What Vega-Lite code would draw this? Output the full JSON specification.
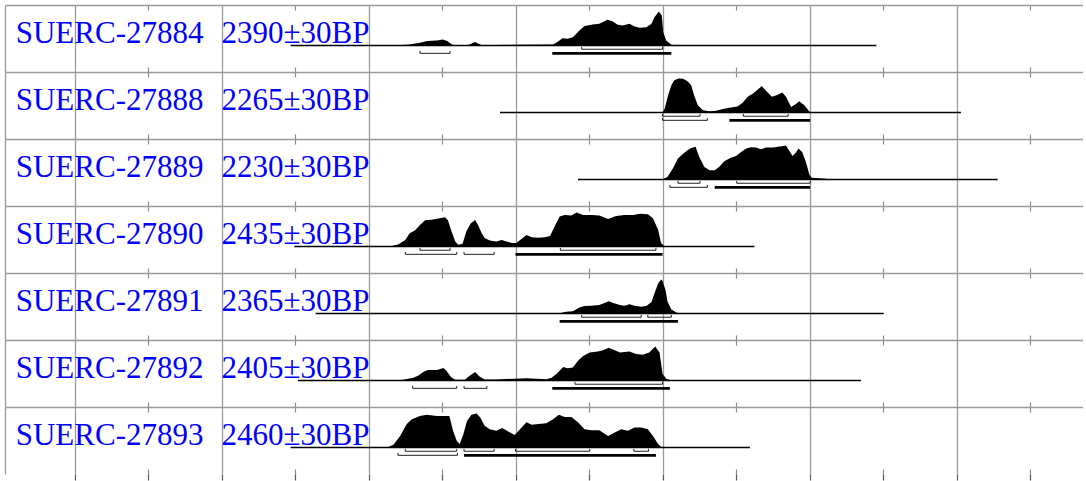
{
  "$schema": "https://vega.github.io/schema/vega-lite/v6.json",
  "padding": {"left": 5, "top": 5, "right": 0, "bottom": 0},
  "background": "white",
  "data": {"values": [
    {"sample":"SUERC-27884","kind":"label","bp":"2390±30BP","from":-906,"to":-109},
    {"sample":"SUERC-27884","kind":"range","level":68.2,"from":-510,"to":-400,"main":false},
    {"sample":"SUERC-27884","kind":"range","level":95.4,"from":-730,"to":-689,"main":false},
    {"sample":"SUERC-27884","kind":"range","level":95.4,"from":-550,"to":-388,"main":true},
    {"sample":"SUERC-27884","kind":"pdf","year":-764,"p":0},
    {"sample":"SUERC-27884","kind":"pdf","year":-744,"p":0.03},
    {"sample":"SUERC-27884","kind":"pdf","year":-730,"p":0.08},
    {"sample":"SUERC-27884","kind":"pdf","year":-720,"p":0.13},
    {"sample":"SUERC-27884","kind":"pdf","year":-707,"p":0.15},
    {"sample":"SUERC-27884","kind":"pdf","year":-699,"p":0.18},
    {"sample":"SUERC-27884","kind":"pdf","year":-693,"p":0.13},
    {"sample":"SUERC-27884","kind":"pdf","year":-686,"p":0.02},
    {"sample":"SUERC-27884","kind":"pdf","year":-678,"p":0},
    {"sample":"SUERC-27884","kind":"pdf","year":-665,"p":0.01},
    {"sample":"SUERC-27884","kind":"pdf","year":-655,"p":0.10},
    {"sample":"SUERC-27884","kind":"pdf","year":-646,"p":0.01},
    {"sample":"SUERC-27884","kind":"pdf","year":-604,"p":0.02},
    {"sample":"SUERC-27884","kind":"pdf","year":-549,"p":0.03},
    {"sample":"SUERC-27884","kind":"pdf","year":-543,"p":0.10},
    {"sample":"SUERC-27884","kind":"pdf","year":-536,"p":0.21},
    {"sample":"SUERC-27884","kind":"pdf","year":-529,"p":0.20},
    {"sample":"SUERC-27884","kind":"pdf","year":-522,"p":0.24},
    {"sample":"SUERC-27884","kind":"pdf","year":-513,"p":0.44},
    {"sample":"SUERC-27884","kind":"pdf","year":-506,"p":0.57},
    {"sample":"SUERC-27884","kind":"pdf","year":-495,"p":0.62},
    {"sample":"SUERC-27884","kind":"pdf","year":-486,"p":0.64},
    {"sample":"SUERC-27884","kind":"pdf","year":-475,"p":0.76},
    {"sample":"SUERC-27884","kind":"pdf","year":-468,"p":0.71},
    {"sample":"SUERC-27884","kind":"pdf","year":-461,"p":0.61},
    {"sample":"SUERC-27884","kind":"pdf","year":-454,"p":0.59},
    {"sample":"SUERC-27884","kind":"pdf","year":-445,"p":0.64},
    {"sample":"SUERC-27884","kind":"pdf","year":-438,"p":0.56},
    {"sample":"SUERC-27884","kind":"pdf","year":-431,"p":0.52},
    {"sample":"SUERC-27884","kind":"pdf","year":-422,"p":0.54},
    {"sample":"SUERC-27884","kind":"pdf","year":-415,"p":0.64},
    {"sample":"SUERC-27884","kind":"pdf","year":-411,"p":0.83},
    {"sample":"SUERC-27884","kind":"pdf","year":-405,"p":1.0},
    {"sample":"SUERC-27884","kind":"pdf","year":-401,"p":0.88},
    {"sample":"SUERC-27884","kind":"pdf","year":-399,"p":0.39},
    {"sample":"SUERC-27884","kind":"pdf","year":-395,"p":0.15},
    {"sample":"SUERC-27884","kind":"pdf","year":-388,"p":0.02},
    {"sample":"SUERC-27884","kind":"pdf","year":-381,"p":0},

    {"sample":"SUERC-27888","kind":"label","bp":"2265±30BP","from":-621,"to":6},
    {"sample":"SUERC-27888","kind":"range","level":68.2,"from":-400,"to":-349,"main":false},
    {"sample":"SUERC-27888","kind":"range","level":68.2,"from":-290,"to":-229,"main":false},
    {"sample":"SUERC-27888","kind":"range","level":95.4,"from":-400,"to":-339,"main":false},
    {"sample":"SUERC-27888","kind":"range","level":95.4,"from":-309,"to":-199,"main":true},
    {"sample":"SUERC-27888","kind":"pdf","year":-400,"p":0},
    {"sample":"SUERC-27888","kind":"pdf","year":-397,"p":0.12},
    {"sample":"SUERC-27888","kind":"pdf","year":-393,"p":0.46},
    {"sample":"SUERC-27888","kind":"pdf","year":-388,"p":0.80},
    {"sample":"SUERC-27888","kind":"pdf","year":-384,"p":0.95},
    {"sample":"SUERC-27888","kind":"pdf","year":-378,"p":1.0},
    {"sample":"SUERC-27888","kind":"pdf","year":-372,"p":0.99},
    {"sample":"SUERC-27888","kind":"pdf","year":-366,"p":0.92},
    {"sample":"SUERC-27888","kind":"pdf","year":-361,"p":0.80},
    {"sample":"SUERC-27888","kind":"pdf","year":-357,"p":0.51},
    {"sample":"SUERC-27888","kind":"pdf","year":-352,"p":0.21},
    {"sample":"SUERC-27888","kind":"pdf","year":-345,"p":0.07},
    {"sample":"SUERC-27888","kind":"pdf","year":-336,"p":0.04},
    {"sample":"SUERC-27888","kind":"pdf","year":-327,"p":0.05},
    {"sample":"SUERC-27888","kind":"pdf","year":-318,"p":0.10},
    {"sample":"SUERC-27888","kind":"pdf","year":-309,"p":0.14},
    {"sample":"SUERC-27888","kind":"pdf","year":-298,"p":0.18},
    {"sample":"SUERC-27888","kind":"pdf","year":-291,"p":0.29},
    {"sample":"SUERC-27888","kind":"pdf","year":-284,"p":0.46},
    {"sample":"SUERC-27888","kind":"pdf","year":-277,"p":0.56},
    {"sample":"SUERC-27888","kind":"pdf","year":-271,"p":0.66},
    {"sample":"SUERC-27888","kind":"pdf","year":-265,"p":0.78},
    {"sample":"SUERC-27888","kind":"pdf","year":-259,"p":0.63},
    {"sample":"SUERC-27888","kind":"pdf","year":-251,"p":0.46},
    {"sample":"SUERC-27888","kind":"pdf","year":-245,"p":0.51},
    {"sample":"SUERC-27888","kind":"pdf","year":-237,"p":0.59},
    {"sample":"SUERC-27888","kind":"pdf","year":-232,"p":0.46},
    {"sample":"SUERC-27888","kind":"pdf","year":-225,"p":0.16},
    {"sample":"SUERC-27888","kind":"pdf","year":-219,"p":0.24},
    {"sample":"SUERC-27888","kind":"pdf","year":-214,"p":0.33},
    {"sample":"SUERC-27888","kind":"pdf","year":-207,"p":0.21},
    {"sample":"SUERC-27888","kind":"pdf","year":-200,"p":0.02},
    {"sample":"SUERC-27888","kind":"pdf","year":-198,"p":0},

    {"sample":"SUERC-27889","kind":"label","bp":"2230±30BP","from":-515,"to":56},
    {"sample":"SUERC-27889","kind":"range","level":68.2,"from":-379,"to":-349,"main":false},
    {"sample":"SUERC-27889","kind":"range","level":68.2,"from":-299,"to":-199,"main":false},
    {"sample":"SUERC-27889","kind":"range","level":95.4,"from":-390,"to":-339,"main":false},
    {"sample":"SUERC-27889","kind":"range","level":95.4,"from":-329,"to":-199,"main":true},
    {"sample":"SUERC-27889","kind":"pdf","year":-400,"p":0},
    {"sample":"SUERC-27889","kind":"pdf","year":-393,"p":0.08},
    {"sample":"SUERC-27889","kind":"pdf","year":-386,"p":0.32},
    {"sample":"SUERC-27889","kind":"pdf","year":-379,"p":0.62},
    {"sample":"SUERC-27889","kind":"pdf","year":-372,"p":0.76},
    {"sample":"SUERC-27889","kind":"pdf","year":-366,"p":0.86},
    {"sample":"SUERC-27889","kind":"pdf","year":-361,"p":0.93},
    {"sample":"SUERC-27889","kind":"pdf","year":-355,"p":0.96},
    {"sample":"SUERC-27889","kind":"pdf","year":-350,"p":0.66},
    {"sample":"SUERC-27889","kind":"pdf","year":-343,"p":0.37},
    {"sample":"SUERC-27889","kind":"pdf","year":-336,"p":0.27},
    {"sample":"SUERC-27889","kind":"pdf","year":-329,"p":0.27},
    {"sample":"SUERC-27889","kind":"pdf","year":-323,"p":0.37},
    {"sample":"SUERC-27889","kind":"pdf","year":-316,"p":0.54},
    {"sample":"SUERC-27889","kind":"pdf","year":-307,"p":0.64},
    {"sample":"SUERC-27889","kind":"pdf","year":-300,"p":0.69},
    {"sample":"SUERC-27889","kind":"pdf","year":-293,"p":0.81},
    {"sample":"SUERC-27889","kind":"pdf","year":-286,"p":0.91},
    {"sample":"SUERC-27889","kind":"pdf","year":-280,"p":0.95},
    {"sample":"SUERC-27889","kind":"pdf","year":-273,"p":0.94},
    {"sample":"SUERC-27889","kind":"pdf","year":-266,"p":0.89},
    {"sample":"SUERC-27889","kind":"pdf","year":-259,"p":0.94},
    {"sample":"SUERC-27889","kind":"pdf","year":-250,"p":0.94},
    {"sample":"SUERC-27889","kind":"pdf","year":-243,"p":0.96},
    {"sample":"SUERC-27889","kind":"pdf","year":-237,"p":0.98},
    {"sample":"SUERC-27889","kind":"pdf","year":-232,"p":1.0},
    {"sample":"SUERC-27889","kind":"pdf","year":-228,"p":0.86},
    {"sample":"SUERC-27889","kind":"pdf","year":-223,"p":0.69},
    {"sample":"SUERC-27889","kind":"pdf","year":-218,"p":0.81},
    {"sample":"SUERC-27889","kind":"pdf","year":-215,"p":0.91},
    {"sample":"SUERC-27889","kind":"pdf","year":-210,"p":0.81},
    {"sample":"SUERC-27889","kind":"pdf","year":-205,"p":0.52},
    {"sample":"SUERC-27889","kind":"pdf","year":-200,"p":0.13},
    {"sample":"SUERC-27889","kind":"pdf","year":-197,"p":0.05},
    {"sample":"SUERC-27889","kind":"pdf","year":-182,"p":0.03},
    {"sample":"SUERC-27889","kind":"pdf","year":-169,"p":0},

    {"sample":"SUERC-27890","kind":"label","bp":"2435±30BP","from":-901,"to":-275},
    {"sample":"SUERC-27890","kind":"range","level":68.2,"from":-730,"to":-689,"main":false},
    {"sample":"SUERC-27890","kind":"range","level":68.2,"from":-539,"to":-409,"main":false},
    {"sample":"SUERC-27890","kind":"range","level":95.4,"from":-750,"to":-680,"main":false},
    {"sample":"SUERC-27890","kind":"range","level":95.4,"from":-670,"to":-629,"main":false},
    {"sample":"SUERC-27890","kind":"range","level":95.4,"from":-600,"to":-400,"main":true},
    {"sample":"SUERC-27890","kind":"pdf","year":-771,"p":0},
    {"sample":"SUERC-27890","kind":"pdf","year":-759,"p":0.07},
    {"sample":"SUERC-27890","kind":"pdf","year":-750,"p":0.19},
    {"sample":"SUERC-27890","kind":"pdf","year":-744,"p":0.39},
    {"sample":"SUERC-27890","kind":"pdf","year":-737,"p":0.47},
    {"sample":"SUERC-27890","kind":"pdf","year":-730,"p":0.63},
    {"sample":"SUERC-27890","kind":"pdf","year":-723,"p":0.77},
    {"sample":"SUERC-27890","kind":"pdf","year":-714,"p":0.79},
    {"sample":"SUERC-27890","kind":"pdf","year":-705,"p":0.82},
    {"sample":"SUERC-27890","kind":"pdf","year":-696,"p":0.86},
    {"sample":"SUERC-27890","kind":"pdf","year":-692,"p":0.77},
    {"sample":"SUERC-27890","kind":"pdf","year":-687,"p":0.44},
    {"sample":"SUERC-27890","kind":"pdf","year":-682,"p":0.15},
    {"sample":"SUERC-27890","kind":"pdf","year":-678,"p":0.05},
    {"sample":"SUERC-27890","kind":"pdf","year":-672,"p":0.08},
    {"sample":"SUERC-27890","kind":"pdf","year":-667,"p":0.44},
    {"sample":"SUERC-27890","kind":"pdf","year":-661,"p":0.68},
    {"sample":"SUERC-27890","kind":"pdf","year":-655,"p":0.78},
    {"sample":"SUERC-27890","kind":"pdf","year":-651,"p":0.63},
    {"sample":"SUERC-27890","kind":"pdf","year":-646,"p":0.39},
    {"sample":"SUERC-27890","kind":"pdf","year":-642,"p":0.25},
    {"sample":"SUERC-27890","kind":"pdf","year":-635,"p":0.18},
    {"sample":"SUERC-27890","kind":"pdf","year":-626,"p":0.15},
    {"sample":"SUERC-27890","kind":"pdf","year":-619,"p":0.19},
    {"sample":"SUERC-27890","kind":"pdf","year":-612,"p":0.15},
    {"sample":"SUERC-27890","kind":"pdf","year":-605,"p":0.10},
    {"sample":"SUERC-27890","kind":"pdf","year":-599,"p":0.10},
    {"sample":"SUERC-27890","kind":"pdf","year":-592,"p":0.22},
    {"sample":"SUERC-27890","kind":"pdf","year":-585,"p":0.34},
    {"sample":"SUERC-27890","kind":"pdf","year":-578,"p":0.27},
    {"sample":"SUERC-27890","kind":"pdf","year":-569,"p":0.26},
    {"sample":"SUERC-27890","kind":"pdf","year":-560,"p":0.27},
    {"sample":"SUERC-27890","kind":"pdf","year":-553,"p":0.31},
    {"sample":"SUERC-27890","kind":"pdf","year":-547,"p":0.58},
    {"sample":"SUERC-27890","kind":"pdf","year":-540,"p":0.88},
    {"sample":"SUERC-27890","kind":"pdf","year":-533,"p":0.93},
    {"sample":"SUERC-27890","kind":"pdf","year":-524,"p":0.91},
    {"sample":"SUERC-27890","kind":"pdf","year":-517,"p":1.0},
    {"sample":"SUERC-27890","kind":"pdf","year":-508,"p":0.93},
    {"sample":"SUERC-27890","kind":"pdf","year":-497,"p":0.93},
    {"sample":"SUERC-27890","kind":"pdf","year":-486,"p":0.91},
    {"sample":"SUERC-27890","kind":"pdf","year":-474,"p":0.81},
    {"sample":"SUERC-27890","kind":"pdf","year":-463,"p":0.90},
    {"sample":"SUERC-27890","kind":"pdf","year":-452,"p":0.93},
    {"sample":"SUERC-27890","kind":"pdf","year":-440,"p":0.93},
    {"sample":"SUERC-27890","kind":"pdf","year":-431,"p":0.96},
    {"sample":"SUERC-27890","kind":"pdf","year":-420,"p":0.95},
    {"sample":"SUERC-27890","kind":"pdf","year":-413,"p":0.83},
    {"sample":"SUERC-27890","kind":"pdf","year":-406,"p":0.49},
    {"sample":"SUERC-27890","kind":"pdf","year":-402,"p":0.10},
    {"sample":"SUERC-27890","kind":"pdf","year":-397,"p":0},

    {"sample":"SUERC-27891","kind":"label","bp":"2365±30BP","from":-872,"to":-99},
    {"sample":"SUERC-27891","kind":"range","level":68.2,"from":-510,"to":-429,"main":false},
    {"sample":"SUERC-27891","kind":"range","level":68.2,"from":-420,"to":-388,"main":false},
    {"sample":"SUERC-27891","kind":"range","level":95.4,"from":-540,"to":-379,"main":true},
    {"sample":"SUERC-27891","kind":"pdf","year":-744,"p":0},
    {"sample":"SUERC-27891","kind":"pdf","year":-716,"p":0.01},
    {"sample":"SUERC-27891","kind":"pdf","year":-689,"p":0.01},
    {"sample":"SUERC-27891","kind":"pdf","year":-678,"p":0},
    {"sample":"SUERC-27891","kind":"pdf","year":-567,"p":0.005},
    {"sample":"SUERC-27891","kind":"pdf","year":-540,"p":0.01},
    {"sample":"SUERC-27891","kind":"pdf","year":-531,"p":0.05},
    {"sample":"SUERC-27891","kind":"pdf","year":-522,"p":0.07},
    {"sample":"SUERC-27891","kind":"pdf","year":-513,"p":0.18},
    {"sample":"SUERC-27891","kind":"pdf","year":-506,"p":0.22},
    {"sample":"SUERC-27891","kind":"pdf","year":-497,"p":0.23},
    {"sample":"SUERC-27891","kind":"pdf","year":-486,"p":0.25},
    {"sample":"SUERC-27891","kind":"pdf","year":-479,"p":0.31},
    {"sample":"SUERC-27891","kind":"pdf","year":-473,"p":0.36},
    {"sample":"SUERC-27891","kind":"pdf","year":-467,"p":0.31},
    {"sample":"SUERC-27891","kind":"pdf","year":-458,"p":0.25},
    {"sample":"SUERC-27891","kind":"pdf","year":-452,"p":0.23},
    {"sample":"SUERC-27891","kind":"pdf","year":-445,"p":0.27},
    {"sample":"SUERC-27891","kind":"pdf","year":-438,"p":0.23},
    {"sample":"SUERC-27891","kind":"pdf","year":-429,"p":0.20},
    {"sample":"SUERC-27891","kind":"pdf","year":-422,"p":0.22},
    {"sample":"SUERC-27891","kind":"pdf","year":-415,"p":0.34},
    {"sample":"SUERC-27891","kind":"pdf","year":-411,"p":0.59},
    {"sample":"SUERC-27891","kind":"pdf","year":-406,"p":0.88},
    {"sample":"SUERC-27891","kind":"pdf","year":-402,"p":1.0},
    {"sample":"SUERC-27891","kind":"pdf","year":-400,"p":0.96},
    {"sample":"SUERC-27891","kind":"pdf","year":-396,"p":0.69},
    {"sample":"SUERC-27891","kind":"pdf","year":-393,"p":0.34},
    {"sample":"SUERC-27891","kind":"pdf","year":-388,"p":0.12},
    {"sample":"SUERC-27891","kind":"pdf","year":-381,"p":0.03},
    {"sample":"SUERC-27891","kind":"pdf","year":-377,"p":0},

    {"sample":"SUERC-27892","kind":"label","bp":"2405±30BP","from":-896,"to":-130},
    {"sample":"SUERC-27892","kind":"range","level":68.2,"from":-519,"to":-400,"main":false},
    {"sample":"SUERC-27892","kind":"range","level":95.4,"from":-740,"to":-680,"main":false},
    {"sample":"SUERC-27892","kind":"range","level":95.4,"from":-670,"to":-639,"main":false},
    {"sample":"SUERC-27892","kind":"range","level":95.4,"from":-550,"to":-390,"main":true},
    {"sample":"SUERC-27892","kind":"pdf","year":-764,"p":0},
    {"sample":"SUERC-27892","kind":"pdf","year":-753,"p":0.02},
    {"sample":"SUERC-27892","kind":"pdf","year":-739,"p":0.08},
    {"sample":"SUERC-27892","kind":"pdf","year":-732,"p":0.15},
    {"sample":"SUERC-27892","kind":"pdf","year":-725,"p":0.26},
    {"sample":"SUERC-27892","kind":"pdf","year":-719,"p":0.31},
    {"sample":"SUERC-27892","kind":"pdf","year":-707,"p":0.31},
    {"sample":"SUERC-27892","kind":"pdf","year":-698,"p":0.37},
    {"sample":"SUERC-27892","kind":"pdf","year":-694,"p":0.29},
    {"sample":"SUERC-27892","kind":"pdf","year":-688,"p":0.10},
    {"sample":"SUERC-27892","kind":"pdf","year":-682,"p":0.02},
    {"sample":"SUERC-27892","kind":"pdf","year":-669,"p":0.02},
    {"sample":"SUERC-27892","kind":"pdf","year":-662,"p":0.15},
    {"sample":"SUERC-27892","kind":"pdf","year":-655,"p":0.25},
    {"sample":"SUERC-27892","kind":"pdf","year":-649,"p":0.12},
    {"sample":"SUERC-27892","kind":"pdf","year":-642,"p":0.03},
    {"sample":"SUERC-27892","kind":"pdf","year":-626,"p":0.03},
    {"sample":"SUERC-27892","kind":"pdf","year":-585,"p":0.07},
    {"sample":"SUERC-27892","kind":"pdf","year":-558,"p":0.04},
    {"sample":"SUERC-27892","kind":"pdf","year":-551,"p":0.08},
    {"sample":"SUERC-27892","kind":"pdf","year":-544,"p":0.20},
    {"sample":"SUERC-27892","kind":"pdf","year":-535,"p":0.40},
    {"sample":"SUERC-27892","kind":"pdf","year":-529,"p":0.36},
    {"sample":"SUERC-27892","kind":"pdf","year":-522,"p":0.38},
    {"sample":"SUERC-27892","kind":"pdf","year":-515,"p":0.58},
    {"sample":"SUERC-27892","kind":"pdf","year":-508,"p":0.72},
    {"sample":"SUERC-27892","kind":"pdf","year":-499,"p":0.82},
    {"sample":"SUERC-27892","kind":"pdf","year":-488,"p":0.85},
    {"sample":"SUERC-27892","kind":"pdf","year":-481,"p":0.89},
    {"sample":"SUERC-27892","kind":"pdf","year":-473,"p":0.96},
    {"sample":"SUERC-27892","kind":"pdf","year":-465,"p":0.89},
    {"sample":"SUERC-27892","kind":"pdf","year":-458,"p":0.82},
    {"sample":"SUERC-27892","kind":"pdf","year":-445,"p":0.85},
    {"sample":"SUERC-27892","kind":"pdf","year":-436,"p":0.78},
    {"sample":"SUERC-27892","kind":"pdf","year":-427,"p":0.76},
    {"sample":"SUERC-27892","kind":"pdf","year":-418,"p":0.82},
    {"sample":"SUERC-27892","kind":"pdf","year":-410,"p":1.0},
    {"sample":"SUERC-27892","kind":"pdf","year":-404,"p":0.82},
    {"sample":"SUERC-27892","kind":"pdf","year":-400,"p":0.20},
    {"sample":"SUERC-27892","kind":"pdf","year":-395,"p":0.05},
    {"sample":"SUERC-27892","kind":"pdf","year":-388,"p":0},

    {"sample":"SUERC-27893","kind":"label","bp":"2460±30BP","from":-906,"to":-281},
    {"sample":"SUERC-27893","kind":"range","level":68.2,"from":-750,"to":-680,"main":false},
    {"sample":"SUERC-27893","kind":"range","level":68.2,"from":-670,"to":-629,"main":false},
    {"sample":"SUERC-27893","kind":"range","level":68.2,"from":-600,"to":-499,"main":false},
    {"sample":"SUERC-27893","kind":"range","level":68.2,"from":-439,"to":-419,"main":false},
    {"sample":"SUERC-27893","kind":"range","level":95.4,"from":-760,"to":-679,"main":false},
    {"sample":"SUERC-27893","kind":"range","level":95.4,"from":-670,"to":-409,"main":true},
    {"sample":"SUERC-27893","kind":"pdf","year":-775,"p":0},
    {"sample":"SUERC-27893","kind":"pdf","year":-766,"p":0.08},
    {"sample":"SUERC-27893","kind":"pdf","year":-757,"p":0.34},
    {"sample":"SUERC-27893","kind":"pdf","year":-748,"p":0.69},
    {"sample":"SUERC-27893","kind":"pdf","year":-741,"p":0.83},
    {"sample":"SUERC-27893","kind":"pdf","year":-730,"p":0.93},
    {"sample":"SUERC-27893","kind":"pdf","year":-721,"p":0.96},
    {"sample":"SUERC-27893","kind":"pdf","year":-707,"p":0.93},
    {"sample":"SUERC-27893","kind":"pdf","year":-690,"p":0.93},
    {"sample":"SUERC-27893","kind":"pdf","year":-685,"p":0.49},
    {"sample":"SUERC-27893","kind":"pdf","year":-680,"p":0.20},
    {"sample":"SUERC-27893","kind":"pdf","year":-676,"p":0.10},
    {"sample":"SUERC-27893","kind":"pdf","year":-671,"p":0.39},
    {"sample":"SUERC-27893","kind":"pdf","year":-666,"p":0.78},
    {"sample":"SUERC-27893","kind":"pdf","year":-660,"p":0.96},
    {"sample":"SUERC-27893","kind":"pdf","year":-653,"p":1.0},
    {"sample":"SUERC-27893","kind":"pdf","year":-648,"p":0.88},
    {"sample":"SUERC-27893","kind":"pdf","year":-642,"p":0.64},
    {"sample":"SUERC-27893","kind":"pdf","year":-635,"p":0.54},
    {"sample":"SUERC-27893","kind":"pdf","year":-626,"p":0.49},
    {"sample":"SUERC-27893","kind":"pdf","year":-618,"p":0.57},
    {"sample":"SUERC-27893","kind":"pdf","year":-610,"p":0.47},
    {"sample":"SUERC-27893","kind":"pdf","year":-601,"p":0.37},
    {"sample":"SUERC-27893","kind":"pdf","year":-594,"p":0.54},
    {"sample":"SUERC-27893","kind":"pdf","year":-585,"p":0.74},
    {"sample":"SUERC-27893","kind":"pdf","year":-578,"p":0.67},
    {"sample":"SUERC-27893","kind":"pdf","year":-569,"p":0.69},
    {"sample":"SUERC-27893","kind":"pdf","year":-558,"p":0.71},
    {"sample":"SUERC-27893","kind":"pdf","year":-549,"p":0.83},
    {"sample":"SUERC-27893","kind":"pdf","year":-541,"p":0.96},
    {"sample":"SUERC-27893","kind":"pdf","year":-533,"p":0.90},
    {"sample":"SUERC-27893","kind":"pdf","year":-524,"p":0.90},
    {"sample":"SUERC-27893","kind":"pdf","year":-515,"p":0.74},
    {"sample":"SUERC-27893","kind":"pdf","year":-506,"p":0.54},
    {"sample":"SUERC-27893","kind":"pdf","year":-497,"p":0.51},
    {"sample":"SUERC-27893","kind":"pdf","year":-486,"p":0.51},
    {"sample":"SUERC-27893","kind":"pdf","year":-474,"p":0.34},
    {"sample":"SUERC-27893","kind":"pdf","year":-465,"p":0.44},
    {"sample":"SUERC-27893","kind":"pdf","year":-456,"p":0.54},
    {"sample":"SUERC-27893","kind":"pdf","year":-447,"p":0.49},
    {"sample":"SUERC-27893","kind":"pdf","year":-438,"p":0.59},
    {"sample":"SUERC-27893","kind":"pdf","year":-429,"p":0.59},
    {"sample":"SUERC-27893","kind":"pdf","year":-420,"p":0.54},
    {"sample":"SUERC-27893","kind":"pdf","year":-413,"p":0.34},
    {"sample":"SUERC-27893","kind":"pdf","year":-406,"p":0.10},
    {"sample":"SUERC-27893","kind":"pdf","year":-402,"p":0.02},
    {"sample":"SUERC-27893","kind":"pdf","year":-397,"p":0}
  ]},
  "facet": {
    "row": {
      "field": "sample", "type": "nominal",
      "sort": ["SUERC-27884","SUERC-27888","SUERC-27889","SUERC-27890","SUERC-27891","SUERC-27892","SUERC-27893"],
      "header": {"title": null, "labels": false, "labelPadding": 0, "titlePadding": 0}
    }
  },
  "spacing": 0,
  "spec": {
    "width": 1078,
    "height": 67,
    "resolve": {"axis": {"x": "independent", "y": "independent"}},
    "layer": [
      {
        "transform": [{"filter": "datum.kind === 'pdf'"}],
        "mark": {"type": "area", "color": "black", "interpolate": "linear"},
        "encoding": {
          "x": {"field": "year", "type": "quantitative",
                "scale": {"domain": [-1294.6, 172.1], "nice": false, "zero": false},
                "axis": {"orient": "bottom", "values": [-1200,-1000,-800,-600,-400,-200,0],
                         "grid": true, "gridColor": "#9a9a9a", "gridWidth": 1.3,
                         "ticks": false, "labels": false, "domain": false, "title": null}},
          "y": {"field": "p", "type": "quantitative",
                "scale": {"domain": [-0.779, 1.191], "nice": false, "zero": false},
                "axis": {"orient": "left", "values": [1.191], "grid": true, "gridColor": "#9a9a9a", "gridWidth": 1.3,
                         "domain": true, "domainColor": "#9a9a9a", "domainWidth": 1.3,
                         "ticks": false, "labels": false, "title": null}},
          "y2": {"datum": 0}
        }
      },
      {
        "transform": [{"filter": "datum.kind === 'label'"}],
        "mark": {"type": "rule", "color": "black", "strokeWidth": 1.5},
        "encoding": {
          "x": {"field": "from", "type": "quantitative",
                "axis": {"orient": "bottom", "values": [-1100,-900,-700,-500,-300,-100,100],
                         "grid": true, "gridColor": "#8a8a8a", "gridWidth": 1.2, "gridDash": [5, 57, 5],
                         "ticks": false, "labels": false, "domain": false, "title": null}},
          "x2": {"field": "to"},
          "y": {"datum": 0, "axis": null}
        }
      },
      {
        "transform": [{"filter": "datum.kind === 'range' && datum.level === 68.2"}],
        "mark": {"type": "rule", "color": "#222", "strokeWidth": 1},
        "encoding": {
          "x": {"field": "from", "type": "quantitative",
                "axis": {"orient": "bottom", "values": [-1200,-1100,-1000,-900,-800,-700,-600,-500,-400,-300,-200,-100,0,100],
                         "grid": false, "ticks": true, "tickSize": 6, "tickColor": "#555", "tickWidth": 1.2,
                         "labels": false, "domain": false, "title": null}},
          "x2": {"field": "to"},
          "y": {"datum": -0.11, "axis": null}
        }
      },
      {
        "transform": [
          {"filter": "datum.kind === 'range' && datum.level === 68.2"},
          {"fold": ["from", "to"], "as": ["end", "edge"]}
        ],
        "mark": {"type": "rule", "color": "#222", "strokeWidth": 1},
        "encoding": {
          "x": {"field": "edge", "type": "quantitative", "axis": null},
          "y": {"datum": -0.11, "axis": null},
          "y2": {"datum": -0.04}
        }
      },
      {
        "transform": [{"filter": "datum.kind === 'range' && datum.level === 95.4 && !datum.main"}],
        "mark": {"type": "rule", "color": "#222", "strokeWidth": 1},
        "encoding": {
          "x": {"field": "from", "type": "quantitative", "axis": null},
          "x2": {"field": "to"},
          "y": {"datum": -0.23, "axis": null}
        }
      },
      {
        "transform": [
          {"filter": "datum.kind === 'range' && datum.level === 95.4 && !datum.main"},
          {"fold": ["from", "to"], "as": ["end", "edge"]}
        ],
        "mark": {"type": "rule", "color": "#222", "strokeWidth": 1},
        "encoding": {
          "x": {"field": "edge", "type": "quantitative", "axis": null},
          "y": {"datum": -0.23, "axis": null},
          "y2": {"datum": -0.16}
        }
      },
      {
        "transform": [{"filter": "datum.kind === 'range' && datum.level === 95.4 && datum.main"}],
        "mark": {"type": "rule", "color": "black", "strokeWidth": 2.6},
        "encoding": {
          "x": {"field": "from", "type": "quantitative", "axis": null},
          "x2": {"field": "to"},
          "y": {"datum": -0.23, "axis": null}
        }
      },
      {
        "transform": [{"filter": "datum.kind === 'label'"}],
        "mark": {"type": "text", "align": "left", "baseline": "alphabetic", "font": "Liberation Serif", "fontSize": 31, "color": "#0000ff"},
        "encoding": {
          "x": {"datum": -1280, "axis": null},
          "y": {"datum": 0.07, "axis": null},
          "text": {"field": "sample"}
        }
      },
      {
        "transform": [{"filter": "datum.kind === 'label'"}],
        "mark": {"type": "text", "align": "left", "baseline": "alphabetic", "font": "Liberation Serif", "fontSize": 31, "color": "#0000ff"},
        "encoding": {
          "x": {"datum": -1000, "axis": null},
          "y": {"datum": 0.07, "axis": null},
          "text": {"field": "bp"}
        }
      }
    ]
  },
  "config": {"view": {"stroke": null}, "axis": {"title": null}}
}
